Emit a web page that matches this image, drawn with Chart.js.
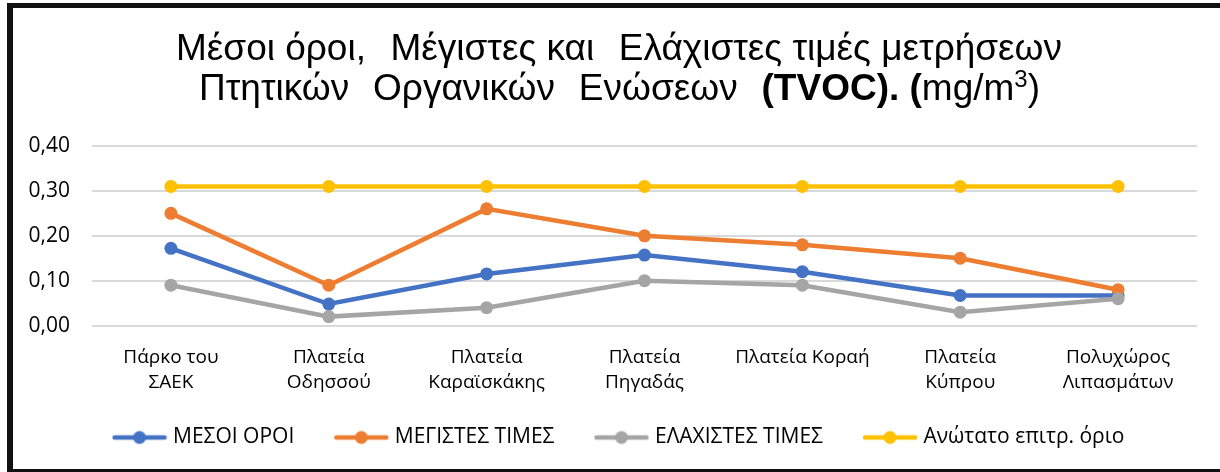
<!DOCTYPE html>
<html>
<head>
<meta charset="utf-8">
<script src="https://cdn.jsdelivr.net/npm/chart.js@4/dist/chart.umd.min.js"></script>
<style>
  html, body { margin: 0; padding: 0; background: #fff; }
  #wrap { position: absolute; left: 0; top: 0; width: 1220px; height: 472px; }
</style>
</head>
<body>
<div id="wrap"><canvas id="c" width="1220" height="472"></canvas></div>
<script>
// ---- Data ----
const categories = [
  ['Πάρκο του', 'ΣΑΕΚ'],
  ['Πλατεία', 'Οδησσού'],
  ['Πλατεία', 'Καραϊσκάκης'],
  ['Πλατεία', 'Πηγαδάς'],
  'Πλατεία Κοραή',
  ['Πλατεία', 'Κύπρου'],
  ['Πολυχώρος', 'Λιπασμάτων']
];
const seriesNames = ['ΜΕΣΟΙ ΟΡΟΙ', 'ΜΕΓΙΣΤΕΣ ΤΙΜΕΣ', 'ΕΛΑΧΙΣΤΕΣ ΤΙΜΕΣ', 'Ανώτατο επιτρ. όριο'];
const meanValues = [0.172, 0.048, 0.115, 0.157, 0.12, 0.067, 0.067];
const maxValues  = [0.25, 0.09, 0.26, 0.20, 0.18, 0.15, 0.08];
const minValues  = [0.09, 0.02, 0.04, 0.10, 0.09, 0.03, 0.06];
const limitValues = [0.31, 0.31, 0.31, 0.31, 0.31, 0.31, 0.31];
const yTicks = [0, 0.1, 0.2, 0.3, 0.4];
// title: segments separated by wide gaps; each segment is a list of runs
const titleLine1 = [
  [{t: 'Μέσοι όροι,'}],
  [{t: 'Μέγιστες και'}],
  [{t: 'Ελάχιστες τιμές μετρήσεων'}]
];
const titleLine2 = [
  [{t: 'Πτητικών'}],
  [{t: 'Οργανικών'}],
  [{t: 'Ενώσεων'}],
  [{t: '(TVOC). (', b: true}, {t: 'mg/m'}, {t: '3', sup: true}, {t: ')'}]
];

const colors = ['#4472C4', '#ED7D31', '#A5A5A5', '#FFC000'];
const uiFont = "'Open Sans', 'Noto Sans', sans-serif";
const titleFont = "'Liberation Sans', Arial, sans-serif";

function legendImage(color) {
  const w = 90, h = 16;
  const cv = document.createElement('canvas');
  cv.width = w; cv.height = h;
  const g = cv.getContext('2d');
  g.strokeStyle = color; g.lineWidth = 4.5; g.lineCap = 'round';
  g.beginPath(); g.moveTo(37, h / 2); g.lineTo(w - 3, h / 2); g.stroke();
  g.fillStyle = color;
  g.beginPath(); g.arc(62, h / 2, 6.5, 0, Math.PI * 2); g.fill();
  return cv;
}

const bgBorder = {
  id: 'bgBorder',
  beforeDraw(chart) {
    const ctx = chart.ctx;
    ctx.save();
    ctx.fillStyle = '#fff';
    ctx.fillRect(0, 0, chart.width, chart.height);
    ctx.fillStyle = '#111';
    ctx.fillRect(7, 3, 1213, 5);   // top
    ctx.fillRect(7, 3, 6, 469);    // left
    ctx.fillRect(7, 469, 1213, 3); // bottom
    ctx.restore();
  },
  afterLayout(chart) {
    const dx = 5, dy = 10;
    chart.legend.left += dx;
    chart.legend.right += dx;
    chart.legend.top += dy;
    chart.legend.bottom += dy;
  }
};

const TITLE_SIZE = 37;
const fontOf = r => `${r.b ? 'bold ' : ''}${r.sup ? 24 : TITLE_SIZE}px ${titleFont}`;
function segWidth(ctx, seg) {
  let w = 0;
  seg.forEach(r => { ctx.font = fontOf(r); w += ctx.measureText(r.t).width; });
  return w;
}
function drawLine(ctx, segs, left, right, baseline) {
  const widths = segs.map(s => segWidth(ctx, s));
  const sum = widths.reduce((a, b) => a + b, 0);
  const gap = (right - left - sum) / (segs.length - 1);
  let x = left;
  segs.forEach((seg, i) => {
    seg.forEach(r => {
      ctx.font = fontOf(r);
      ctx.fillText(r.t, x, r.sup ? baseline - 13 : baseline);
      x += ctx.measureText(r.t).width;
    });
    x += gap;
  });
}

const richTitle = {
  id: 'richTitle',
  afterDraw(chart) {
    const ctx = chart.ctx;
    ctx.save();
    ctx.fillStyle = '#000';
    ctx.textBaseline = 'alphabetic';
    ctx.textAlign = 'left';
    drawLine(ctx, titleLine1, 176, 1062, 60);
    drawLine(ctx, titleLine2, 199, 1040, 100);
    ctx.restore();
  }
};

const mkDs = (label, data, color, order) => ({
  label, data,
  borderColor: color, backgroundColor: color,
  borderWidth: 4.5,
  pointRadius: 6.5, pointHoverRadius: 6.5,
  pointBorderWidth: 0,
  pointBackgroundColor: color,
  tension: 0,
  order
});

new Chart(document.getElementById('c'), {
  type: 'line',
  data: {
    labels: categories,
    datasets: [
      mkDs(seriesNames[0], meanValues, colors[0], 4),
      mkDs(seriesNames[1], maxValues, colors[1], 3),
      mkDs(seriesNames[2], minValues, colors[2], 2),
      mkDs(seriesNames[3], limitValues, colors[3], 1)
    ]
  },
  options: {
    responsive: false,
    animation: false,
    events: [],
    layout: { padding: { top: 146, right: 23, bottom: 24, left: 0 } },
    scales: {
      x: {
        offset: true,
        grid: { display: false, offset: true },
        border: { display: false },
        ticks: {
          color: '#000', autoSkip: false, maxRotation: 0, minRotation: 0,
          padding: 12,
          font: { family: uiFont, size: 19, lineHeight: 1.3 }
        }
      },
      y: {
        min: 0, max: 0.4,
        afterBuildTicks(scale) { scale.ticks = yTicks.map(v => ({ value: v })); },
        afterFit(scale) { scale.width = 92; },
        grid: { color: '#d9d9d9', lineWidth: 2, drawTicks: false },
        border: { display: false },
        ticks: {
          color: '#000', padding: 22,
          font: { family: uiFont, size: 21 },
          callback: v => v.toFixed(2).replace('.', ',')
        }
      }
    },
    plugins: {
      title: { display: false },
      tooltip: { enabled: false },
      legend: {
        position: 'bottom',
        labels: {
          color: '#000',
          font: { family: uiFont, size: 21 },
          usePointStyle: true,
          pointStyleWidth: 80,
          padding: 10,
          generateLabels(chart) {
            return chart.data.datasets.map((ds, i) => ({
              text: ds.label,
              fillStyle: ds.borderColor,
              strokeStyle: ds.borderColor,
              lineWidth: 0,
              pointStyle: legendImage(ds.borderColor),
              hidden: false,
              datasetIndex: i,
              fontColor: '#000'
            }));
          }
        }
      }
    }
  },
  plugins: [bgBorder, richTitle]
});
</script>
</body>
</html>
